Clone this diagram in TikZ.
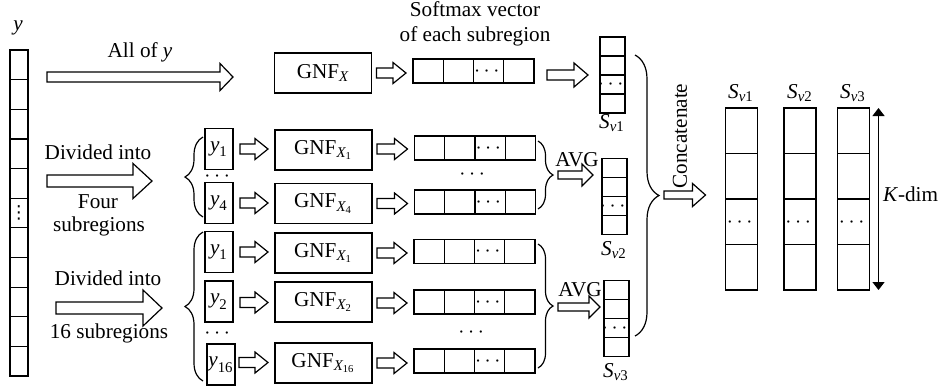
\documentclass[tikz,border=0pt]{standalone}
\usepackage{amsmath}
\usepackage{fontspec}
\setmainfont{Liberation Serif}
\newfontfamily\dvsans{DejaVu Sans}
\usetikzlibrary{calc,arrows.meta,decorations.pathreplacing}

% hollow block arrow: start coordinate, end coordinate, shaft half width, head half width, head length
\newcommand\fatarrow[5]{%
  \draw[fat] let \p1=(#1), \p2=(#2) in
    (\x1,\y1+#3) -- (\x2-#5,\y1+#3) -- (\x2-#5,\y1+#4) -- (\x2,\y1)
    -- (\x2-#5,\y1-#4) -- (\x2-#5,\y1-#3) -- (\x1,\y1-#3) -- cycle;}

% vertical vector: name, position, style, number of cells, dots cell, dots symbol, dots style
\newcommand\vvec[7]{%
  \node[#3] (#1) at (#2) {};
  \pgfmathtruncatemacro\vvn{#4-1}%
  \foreach \k in {1,...,\vvn}{%
    \pgfmathsetmacro\vvfr{\k/#4}%
    \draw ($(#1.north west)!\vvfr!(#1.south west)$) -- ($(#1.north east)!\vvfr!(#1.south east)$);}%
  \pgfmathsetmacro\vvfr{(#5-0.5)/#4}%
  \node[#7] (#1d) at ($(#1.north)!\vvfr!(#1.south)$) {#6};}

% horizontal softmax vector: name, position
\newcommand\hvec[2]{%
  \node[hvbox] (#1) at (#2) {};
  \foreach \k in {0.25,0.5,0.75}{%
    \draw ($(#1.north west)!\k!(#1.north east)$) -- ($(#1.south west)!\k!(#1.south east)$);}%
  \node[dotc] (#1d) at ($(#1.west)!0.625!(#1.east)$) {$\cdots$};}

\begin{document}
\begin{tikzpicture}[x=0.5pt,y=-0.5pt,line width=0.6pt,
  every node/.style={font=\fontsize{10.6}{12.2}\selectfont, inner sep=0pt, outer sep=0pt},
  gnf/.style={draw, minimum width=48.5pt, minimum height=20pt},
  ybox/.style={draw, minimum width=14pt, minimum height=20.5pt},
  hvbox/.style={draw, minimum width=60.5pt, minimum height=12pt},
  svbox/.style={draw, minimum width=12.5pt, minimum height=38pt},
  bigbox/.style={draw, minimum width=16pt, minimum height=91pt},
  leftbox/.style={draw, minimum width=9pt, minimum height=163pt},
  dotc/.style={anchor=base, yshift=-2.65pt},
  dotv/.style={font=\dvsans\fontsize{9}{9}\selectfont},
  fat/.style={draw, fill=white, line join=miter},
  brc/.style={draw, decorate, decoration={brace, amplitude=#1}},
  brc/.default=7.5pt,
  kdim/.style={{Triangle[width=6pt,length=4pt]}-{Triangle[width=6pt,length=4pt]}}
]
\useasboundingbox (0,0) rectangle (940,388);

% input vector y
\vvec{yv}{19,213}{leftbox}{11}{6}{⋮}{dotv}
\node (ylab) at (18,28) {\textit{y}};

% left texts and arrows
\node (t0) at (140,52) {All of \textit{y}};
\coordinate (a0s) at (47,77);  \coordinate (a0e) at (233,77);
\fatarrow{a0s}{a0e}{2.5pt}{6.75pt}{6.5pt}

\node (t1) at (98,152) {Divided into};
\node (t2) at (98,202) {Four};
\node (t3) at (99,226) {subregions};
\coordinate (a1s) at (47,181); \coordinate (a1e) at (152,181);
\fatarrow{a1s}{a1e}{3pt}{8.75pt}{9.5pt}

\node (t4) at (108,278) {Divided into};
\node (t5) at (109,333) {16 subregions};
\coordinate (a2s) at (56,308); \coordinate (a2e) at (162,308);
\fatarrow{a2s}{a2e}{3pt}{9pt}{9.5pt}

% row 1
\node[gnf] (gX) at (323,73) {GNF$_{\textit{X}}$};
\hvec{v0}{473.5,71}
\vvec{s1}{612.5,75}{svbox}{4}{3}{$\cdots$}{dotc}
\node (s1l) at (612,123) {\textit{S}$_{\textit{v}\text{1}}$};
\node[align=center] (sm) at (475,24) {Softmax vector\\of each subregion};
\fatarrow{$(gX.east)+(5,0)$}{$(v0.west)+(-7,0)$}{2.5pt}{5.25pt}{6.5pt}
\fatarrow{$(v0.east)+(13,4)$}{$(s1.west)+(-12,0)$}{2.5pt}{6pt}{7pt}

% row 2 (four subregions)
\node[ybox] (y2a) at (219,149) {$\textit{y}_{\text{1}}$};
\node[ybox] (y2b) at (219,203) {$\textit{y}_{\text{4}}$};
\node[dotc] (y2d) at (219,176) {$\cdots$};
\node[gnf] (g2a) at (323.5,150) {GNF$_{\textit{X}_{\text{1}}}$};
\node[gnf] (g2b) at (323.5,203.5) {GNF$_{\textit{X}_{\text{4}}}$};
\hvec{v2a}{475,148}
\hvec{v2b}{475,202}
\node[dotc] (v2dd) at (474,174) {$\cdots$};
\fatarrow{$(y2a.east)+(7,0)$}{$(g2a.west)+(-7,0)$}{2.5pt}{5.25pt}{6.5pt}
\fatarrow{$(y2b.east)+(7,0)$}{$(g2b.west)+(-7,0)$}{2.5pt}{5.25pt}{6.5pt}
\fatarrow{$(g2a.east)+(5,-1)$}{$(v2a.west)+(-7,0)$}{2.5pt}{5.25pt}{6.5pt}
\fatarrow{$(g2b.east)+(5,0)$}{$(v2b.west)+(-7,0)$}{2.5pt}{5.25pt}{6.5pt}
\draw[brc=9pt] (203,217) -- (203,137);
\draw[brc] (538,141) -- (538,209);
\node (avg1) at (577,160) {AVG};
\vvec{s2}{614.5,196.5}{svbox}{4}{3}{$\cdots$}{dotc}
\node (s2l) at (614,250) {\textit{S}$_{\textit{v}\text{2}}$};
\coordinate (b2t) at (558,175);
\fatarrow{b2t}{$(s2.west)+(-9,0)$}{2pt}{5.5pt}{5.5pt}

% row 3 (16 subregions)
\node[ybox] (y3a) at (219,252) {$\textit{y}_{\text{1}}$};
\node[ybox] (y3b) at (219,301.5) {$\textit{y}_{\text{2}}$};
\node[ybox] (y3c) at (221,364.5) {$\textit{y}_{\text{16}}$};
\node[dotc] (y3d) at (219,333) {$\cdots$};
\node[gnf] (g3a) at (323.5,253) {GNF$_{\textit{X}_{\text{1}}}$};
\node[gnf] (g3b) at (323.5,302) {GNF$_{\textit{X}_{\text{2}}}$};
\node[gnf] (g3c) at (323.5,363) {GNF$_{\textit{X}_{\text{16}}}$};
\hvec{v3a}{474.5,251.5}
\hvec{v3b}{474.5,302}
\hvec{v3c}{474.5,361}
\node[dotc] (v3dd) at (473,332) {$\cdots$};
\fatarrow{$(y3a.east)+(7,0)$}{$(g3a.west)+(-7,0)$}{2.5pt}{5.25pt}{6.5pt}
\fatarrow{$(y3b.east)+(7,1)$}{$(g3b.west)+(-7,0)$}{2.5pt}{5.25pt}{6.5pt}
\fatarrow{$(y3c.east)+(4,-2)$}{$(g3c.west)+(-7,0)$}{2.5pt}{5.25pt}{6.5pt}
\fatarrow{$(g3a.east)+(5,0)$}{$(v3a.west)+(-7,0)$}{2.5pt}{5.25pt}{6.5pt}
\fatarrow{$(g3b.east)+(5,1)$}{$(v3b.west)+(-7,0)$}{2.5pt}{5.25pt}{6.5pt}
\fatarrow{$(g3c.east)+(5,0)$}{$(v3c.west)+(-7,0)$}{2.5pt}{5.25pt}{6.5pt}
\draw[brc=9pt] (203,381) -- (203,232);
\draw[brc] (538,244) -- (538,368);
\node (avg2) at (580,290) {AVG};
\vvec{s3}{616.5,318.5}{svbox}{4}{3}{$\cdots$}{dotc}
\node (s3l) at (616,372) {\textit{S}$_{\textit{v}\text{3}}$};
\coordinate (b3t) at (558,307);
\fatarrow{b3t}{$(s3.west)+(-4,0)$}{2pt}{5.5pt}{5.5pt}

% concatenation
\draw[brc=12pt] (635,55) -- (635,336);
\node[rotate=90] (cc) at (680,136) {Concatenate};
\coordinate (cct) at (664,195);
\vvec{B1}{741.5,199}{bigbox}{4}{3}{$\cdots$}{dotc}
\vvec{B2}{800,199}{bigbox}{4}{3}{$\cdots$}{dotc}
\vvec{B3}{853.5,199}{bigbox}{4}{3}{$\cdots$}{dotc}
\fatarrow{cct}{$(B1.west)+(-20,0)$}{2pt}{5.75pt}{6.5pt}
\node (B1l) at (741,93) {\textit{S}$_{\textit{v}\text{1}}$};
\node (B2l) at (800,93) {\textit{S}$_{\textit{v}\text{2}}$};
\node (B3l) at (853,93) {\textit{S}$_{\textit{v}\text{3}}$};
\draw[kdim] ($(B3.north east)+(9,0)$) coordinate (k1) -- ($(B3.south east)+(9,0)$) coordinate (k2);
\node[anchor=west] (kd) at (883,194) {\textit{K}-dim};
\end{tikzpicture}
\end{document}
